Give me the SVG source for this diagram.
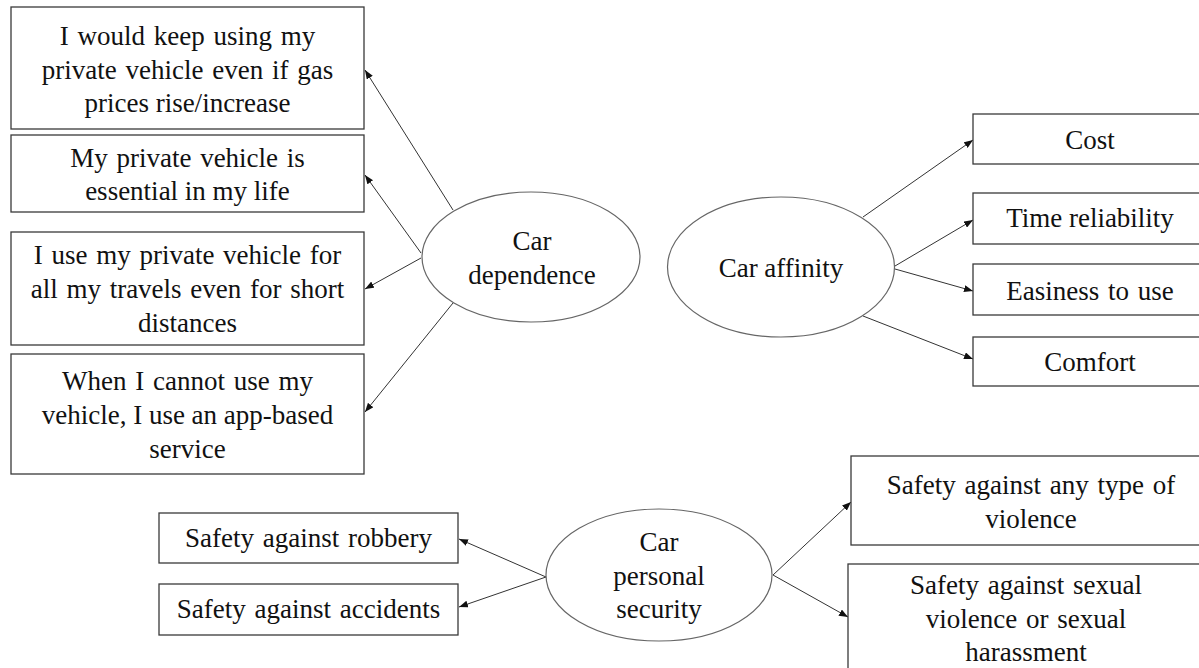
<svg xmlns="http://www.w3.org/2000/svg" width="1199" height="668" viewBox="0 0 1199 668">
<style>
.box{fill:#fff;stroke:#3a3a3a;stroke-width:1.3}
.ell{fill:#fff;stroke:#666;stroke-width:1.2}
.t{font-family:"Liberation Serif","Times New Roman",serif;font-size:27px;fill:#111;text-anchor:middle}
.w{word-spacing:2px}
.c{stroke:#333;stroke-width:1;fill:none;marker-end:url(#ah)}
</style>
<defs>
<marker id="ah" viewBox="0 0 9 7" refX="9" refY="3.5" markerWidth="9" markerHeight="7" markerUnits="userSpaceOnUse" orient="auto">
<path d="M0,0 L9,3.5 L0,7 z" fill="#111"/>
</marker>
</defs>
<rect width="1199" height="668" fill="#fff"/>
<g id="connectors">
<line class="c" x1="453" y1="210" x2="365" y2="70"/>
<line class="c" x1="421" y1="253" x2="365" y2="175"/>
<line class="c" x1="421" y1="258" x2="365" y2="289"/>
<line class="c" x1="453" y1="303" x2="365" y2="412"/>
<line class="c" x1="863" y1="217" x2="973" y2="140"/>
<line class="c" x1="895" y1="266" x2="973" y2="220"/>
<line class="c" x1="895" y1="269" x2="973" y2="291"/>
<line class="c" x1="863" y1="316" x2="973" y2="359"/>
<line class="c" x1="546" y1="577" x2="459" y2="539"/>
<line class="c" x1="546" y1="577" x2="459" y2="607"/>
<line class="c" x1="773" y1="575" x2="851" y2="502"/>
<line class="c" x1="773" y1="575" x2="848" y2="617"/>
</g>
<g id="car-dependence">
<ellipse class="ell" cx="531" cy="257" rx="109" ry="65"/>
<text class="t" x="532" y="250">Car</text>
<text class="t" x="532" y="284">dependence</text>
</g>
<g id="car-affinity">
<ellipse class="ell" cx="781" cy="267" rx="113.5" ry="70"/>
<text class="t" x="781" y="277">Car affinity</text>
</g>
<g id="car-personal-security">
<ellipse class="ell" cx="659" cy="575" rx="113" ry="66"/>
<text class="t" x="659" y="551">Car</text>
<text class="t" x="659" y="585">personal</text>
<text class="t" x="659" y="618">security</text>
</g>
<g id="gas-prices">
<rect class="box" x="11" y="7" width="353" height="122"/>
<text class="t w" x="187.5" y="45">I would keep using my</text>
<text class="t w" x="187.5" y="79">private vehicle even if gas</text>
<text class="t" x="187.5" y="112">prices rise/increase</text>
</g>
<g id="essential">
<rect class="box" x="11" y="135" width="353" height="77"/>
<text class="t w" x="187.5" y="167">My private vehicle is</text>
<text class="t" x="187.5" y="200">essential in my life</text>
</g>
<g id="all-travels">
<rect class="box" x="11" y="232" width="353" height="113"/>
<text class="t w" x="187.5" y="264">I use my private vehicle for</text>
<text class="t w" x="187.5" y="298">all my travels even for short</text>
<text class="t" x="187.5" y="332">distances</text>
</g>
<g id="app-based">
<rect class="box" x="11" y="354" width="353" height="120"/>
<text class="t w" x="187.5" y="390">When I cannot use my</text>
<text class="t" x="187.5" y="424">vehicle, I use an app-based</text>
<text class="t" x="187.5" y="458">service</text>
</g>
<g id="cost">
<rect class="box" x="973" y="114" width="240" height="50"/>
<text class="t" x="1090" y="149">Cost</text>
</g>
<g id="time-reliability">
<rect class="box" x="973" y="193" width="240" height="51"/>
<text class="t" x="1090" y="227">Time reliability</text>
</g>
<g id="easiness">
<rect class="box" x="973" y="264" width="240" height="51"/>
<text class="t w" x="1090" y="300">Easiness to use</text>
</g>
<g id="comfort">
<rect class="box" x="973" y="337" width="240" height="49"/>
<text class="t" x="1090" y="371">Comfort</text>
</g>
<g id="robbery">
<rect class="box" x="159" y="513" width="299" height="50"/>
<text class="t w" x="308.5" y="547">Safety against robbery</text>
</g>
<g id="accidents">
<rect class="box" x="159" y="584" width="299" height="51"/>
<text class="t w" x="308.5" y="618">Safety against accidents</text>
</g>
<g id="any-violence">
<rect class="box" x="851" y="456" width="365" height="89"/>
<text class="t w" x="1031" y="494">Safety against any type of</text>
<text class="t" x="1031" y="528">violence</text>
</g>
<g id="sexual-violence">
<rect class="box" x="848" y="564" width="360" height="120"/>
<text class="t w" x="1026" y="594">Safety against sexual</text>
<text class="t w" x="1026" y="628">violence or sexual</text>
<text class="t" x="1026" y="661">harassment</text>
</g>
</svg>
